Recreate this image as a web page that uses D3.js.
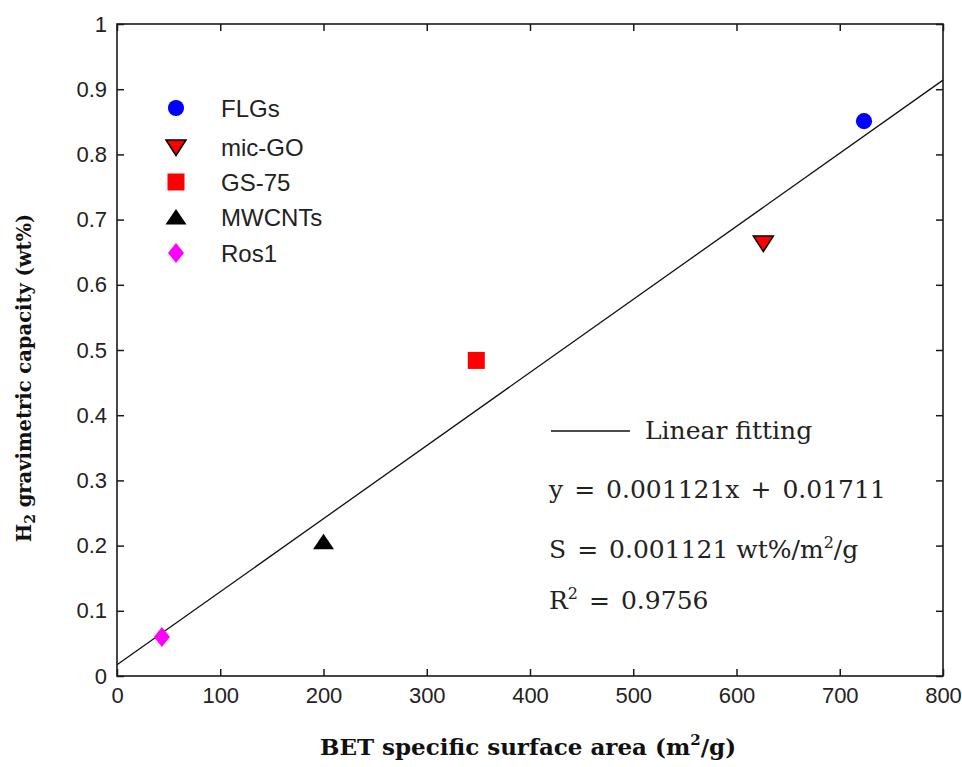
<!DOCTYPE html>
<html>
<head>
<meta charset="utf-8">
<script src="https://cdn.jsdelivr.net/npm/d3@7"></script>
<style>
  html, body { margin: 0; padding: 0; background: #fff; }
  svg { display: block; }
</style>
</head>
<body>
<svg id="chart" width="962" height="767"></svg>
<script>
// Samples: BET surface area (m²/g) vs. H2 uptake (wt%)
const sampleNames = ["FLGs", "mic-GO", "GS-75", "MWCNTs", "Ros1"];
const surfaceArea = [723.5, 626, 348, 200, 43.5];
const h2Capacity  = [0.851, 0.664, 0.484, 0.206, 0.060];
const markerShapes = ["circle", "triangleDown", "square", "triangleUp", "diamond"];
const markerFills  = ["#0000ff", "#ff0000", "#ff0000", "#000000", "#ff00ff"];

// Linear fit y = slope * x + intercept
const fitSlope = 0.001121;
const fitIntercept = 0.01711;
const fitR2 = 0.9756;
const fitRange = [0, 800];

const xTicks = [0, 100, 200, 300, 400, 500, 600, 700, 800];
const yTicks = [0, 0.1, 0.2, 0.3, 0.4, 0.5, 0.6, 0.7, 0.8, 0.9, 1];

const svg = d3.select("#chart");
const plotLeft = 117, plotRight = 943, plotTop = 24, plotBottom = 676;

const x = d3.scaleLinear().domain([0, 800]).range([plotLeft, plotRight]);
const y = d3.scaleLinear().domain([0, 1]).range([plotBottom, plotTop]);

const tickFont = "'Liberation Sans', Arial, sans-serif";
const mathFont = "'DejaVu Serif', serif";

// frame
svg.append("rect")
  .attr("x", plotLeft).attr("y", plotTop)
  .attr("width", plotRight - plotLeft).attr("height", plotBottom - plotTop)
  .attr("fill", "none").attr("stroke", "#1a1a1a").attr("stroke-width", 1.6);

const fmtY = d => d === 0 ? "0" : d === 1 ? "1" : d3.format(".1f")(d);

// bottom axis with inward ticks
const gx = svg.append("g").attr("transform", `translate(0,${plotBottom})`)
  .call(d3.axisBottom(x).tickValues(xTicks).tickSize(-7).tickPadding(11).tickFormat(d3.format("d")));
// left axis with inward ticks
const gy = svg.append("g").attr("transform", `translate(${plotLeft},0)`)
  .call(d3.axisLeft(y).tickValues(yTicks).tickSize(-7).tickPadding(10).tickFormat(fmtY));
// top and right mirrored ticks
const gt = svg.append("g").attr("transform", `translate(0,${plotTop})`)
  .call(d3.axisTop(x).tickValues(xTicks).tickSize(-7).tickFormat(""));
const gr = svg.append("g").attr("transform", `translate(${plotRight},0)`)
  .call(d3.axisRight(y).tickValues(yTicks).tickSize(-7).tickFormat(""));

[gx, gy, gt, gr].forEach(g => {
  g.select(".domain").remove();
  g.selectAll(".tick line").attr("stroke", "#1a1a1a").attr("stroke-width", 1.5);
  g.selectAll(".tick text")
    .attr("fill", "#222")
    .style("font-family", tickFont)
    .style("font-size", "22px");
});

// fitted line
const fitLine = d3.line().x(d => x(d)).y(d => y(fitSlope * d + fitIntercept));
svg.append("path")
  .datum(fitRange)
  .attr("d", fitLine)
  .attr("fill", "none")
  .attr("stroke", "#111")
  .attr("stroke-width", 1.3);

// marker shapes
function markerPath(shape) {
  switch (shape) {
    case "circle": return d3.symbol(d3.symbolCircle, 205)();
    case "square": return "M-8.5,-8.5H8.5V8.5H-8.5Z";
    case "triangleUp": return "M0,-8L10.5,7.5H-10.5Z";
    case "triangleDown": return "M-10,-7H10L0,8.5Z";
    case "diamond": return "M0,-10L8,0L0,10L-8,0Z";
  }
}
function markerStroke(shape) {
  return shape === "triangleDown" ? "#000" : "none";
}

const points = sampleNames.map((n, i) => ({
  name: n, sx: surfaceArea[i], sy: h2Capacity[i],
  shape: markerShapes[i], fill: markerFills[i]
}));

svg.append("g").selectAll("path")
  .data(points)
  .join("path")
  .attr("transform", d => `translate(${x(d.sx)},${y(d.sy)})`)
  .attr("d", d => markerPath(d.shape))
  .attr("fill", d => d.fill)
  .attr("stroke", d => markerStroke(d.shape))
  .attr("stroke-width", 1.5);

// legend
const legendRowY = [108, 147, 182, 217, 253];
const legend = svg.append("g");
points.forEach((d, i) => {
  legend.append("path")
    .attr("transform", `translate(176,${legendRowY[i]})`)
    .attr("d", markerPath(d.shape))
    .attr("fill", d.fill)
    .attr("stroke", markerStroke(d.shape))
    .attr("stroke-width", 1.5);
  legend.append("text")
    .attr("x", 221).attr("y", legendRowY[i] + 9)
    .attr("fill", "#222")
    .style("font-family", tickFont)
    .style("font-size", "24px")
    .text(d.name);
});

// fit annotation
svg.append("line")
  .attr("x1", 551).attr("x2", 630).attr("y1", 431).attr("y2", 431)
  .attr("stroke", "#111").attr("stroke-width", 1.3);
const ann = svg.append("g")
  .attr("fill", "#222")
  .style("font-family", mathFont)
  .style("font-size", "25px");
ann.append("text").attr("x", 645).attr("y", 439).text("Linear fitting");

const gap = 11;
function eqText(yPos) {
  return ann.append("text").attr("x", 549).attr("y", yPos);
}
const eq = eqText(498);
eq.append("tspan").text("y");
eq.append("tspan").attr("dx", gap).text("=");
eq.append("tspan").attr("dx", gap).text(`${fitSlope}x`);
eq.append("tspan").attr("dx", gap).text("+");
eq.append("tspan").attr("dx", gap).text(`${fitIntercept}`);

const sText = eqText(558);
sText.append("tspan").text("S");
sText.append("tspan").attr("dx", gap).text("=");
sText.append("tspan").attr("dx", gap).text(`${fitSlope} wt%/m`);
sText.append("tspan").attr("dy", -10).style("font-size", "16px").text("2");
sText.append("tspan").attr("dy", 10).text("/g");

const rText = eqText(609);
rText.append("tspan").text("R");
rText.append("tspan").attr("dy", -10).style("font-size", "16px").text("2");
rText.append("tspan").attr("dy", 10).attr("dx", gap).text("=");
rText.append("tspan").attr("dx", gap).text(`${fitR2}`);

// axis titles
const xTitle = svg.append("text")
  .attr("x", 528).attr("y", 755)
  .attr("text-anchor", "middle")
  .attr("fill", "#111")
  .style("font-family", mathFont)
  .style("font-size", "23px")
  .style("font-weight", "bold");
xTitle.append("tspan").text("BET specific surface area (m");
xTitle.append("tspan").attr("dy", -10).style("font-size", "15px").text("2");
xTitle.append("tspan").attr("dy", 10).text("/g)");

const yTitle = svg.append("text")
  .attr("transform", "translate(31,378) rotate(-90)")
  .attr("text-anchor", "middle")
  .attr("fill", "#111")
  .style("font-family", mathFont)
  .style("font-size", "19.5px")
  .style("font-weight", "bold");
yTitle.append("tspan").text("H");
yTitle.append("tspan").attr("dy", 4).style("font-size", "14px").text("2");
yTitle.append("tspan").attr("dy", -4).text(" gravimetric capacity (wt%)");
</script>
</body>
</html>
